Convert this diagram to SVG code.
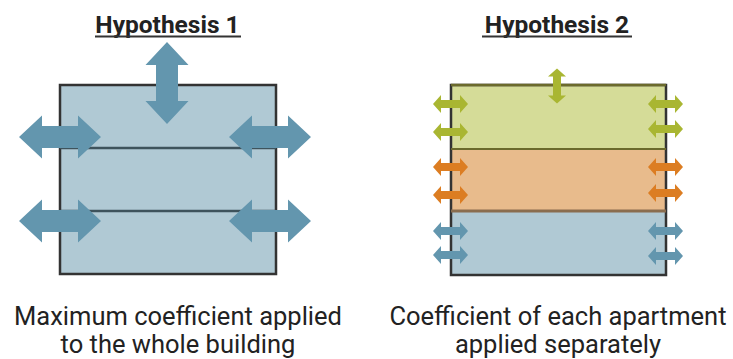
<svg xmlns="http://www.w3.org/2000/svg" width="733" height="359" viewBox="0 0 733 359">
<style>
.title{font-family:Roboto,"Liberation Sans",sans-serif;font-weight:bold;font-size:24.5px;fill:#222;text-anchor:middle}
.cap{font-family:Roboto,"Liberation Sans",sans-serif;font-size:25.5px;fill:#222;text-anchor:middle}
.ul{stroke:#333;stroke-width:2}
.blue{fill:#6396ae}
.green{fill:#a9b632}
.orange{fill:#dc7d22}
</style>
<defs>
<path id="bigArrow" d="M-41,0 L-18,-21.5 L-18,-11 L18,-11 L18,-21.5 L41,0 L18,21.5 L18,11 L-18,11 L-18,21.5 Z"/>
<path id="smallArrow" d="M-17.5,0 L-9.5,-9 L-9.5,-4 L9.5,-4 L9.5,-9 L17.5,0 L9.5,9 L9.5,4 L-9.5,4 L-9.5,9 Z"/>
</defs>
<rect width="733" height="359" fill="#fff"/>

<g id="hypothesis1">
  <text class="title" x="167.5" y="33">Hypothesis 1</text>
  <line class="ul" x1="95" y1="36.5" x2="241" y2="36.5"/>
  <rect x="60" y="85" width="216" height="189" fill="#b0c9d4" stroke="#333" stroke-width="2.5"/>
  <line x1="60" y1="148" x2="276" y2="148" stroke="#3e535c" stroke-width="2.5"/>
  <line x1="60" y1="211" x2="276" y2="211" stroke="#3e535c" stroke-width="2.5"/>
  <g class="blue">
    <use href="#bigArrow" transform="translate(60,137)"/>
    <use href="#bigArrow" transform="translate(60,221)"/>
    <use href="#bigArrow" transform="translate(270,137)"/>
    <use href="#bigArrow" transform="translate(270,221)"/>
    <use href="#bigArrow" transform="translate(167,83) rotate(90)"/>
  </g>
  <text class="cap" x="178" y="325">Maximum coefficient applied</text>
  <text class="cap" x="178" y="353">to the whole building</text>
</g>

<g id="hypothesis2">
  <text class="title" x="557" y="33">Hypothesis 2</text>
  <line class="ul" x1="482" y1="36.5" x2="632" y2="36.5"/>
  <rect x="451" y="85" width="215" height="64" fill="#d5dc98"/>
  <rect x="451" y="149" width="215" height="62" fill="#e8bb8c"/>
  <rect x="451" y="211" width="215" height="64" fill="#b0c9d4"/>
  <rect x="451" y="85" width="215" height="190" fill="none" stroke="#333" stroke-width="2.5"/>
  <line x1="451" y1="85" x2="666" y2="85" stroke="#6b6a2c" stroke-width="2.5"/>
  <line x1="451" y1="149" x2="666" y2="149" stroke="#6b6a2c" stroke-width="2"/>
  <line x1="451" y1="211" x2="666" y2="211" stroke="#8a6d4f" stroke-width="3"/>
  <g class="green">
    <use href="#smallArrow" transform="translate(450.5,104)"/>
    <use href="#smallArrow" transform="translate(450.5,132)"/>
    <use href="#smallArrow" transform="translate(665.5,104)"/>
    <use href="#smallArrow" transform="translate(665.5,129)"/>
    <use href="#smallArrow" transform="translate(557,86) rotate(90)"/>
  </g>
  <g class="orange">
    <use href="#smallArrow" transform="translate(450.5,167)"/>
    <use href="#smallArrow" transform="translate(450.5,195)"/>
    <use href="#smallArrow" transform="translate(665.5,167)"/>
    <use href="#smallArrow" transform="translate(665.5,193)"/>
  </g>
  <g class="blue">
    <use href="#smallArrow" transform="translate(450.5,231)"/>
    <use href="#smallArrow" transform="translate(450.5,255)"/>
    <use href="#smallArrow" transform="translate(665.5,231)"/>
    <use href="#smallArrow" transform="translate(665.5,256)"/>
  </g>
  <text class="cap" x="558" y="325">Coefficient of each apartment</text>
  <text class="cap" x="558" y="353">applied separately</text>
</g>
<g id="connectors"/>
</svg>
